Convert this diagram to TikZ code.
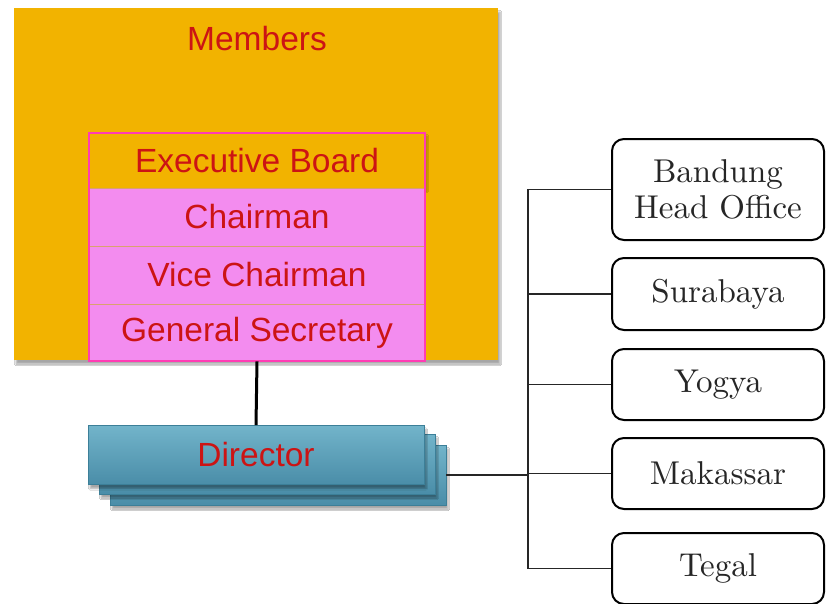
\documentclass[tikz,border=0pt]{standalone}
\usepackage{fontspec}
\newfontfamily\arialf{Liberation Sans}
\newfontfamily\lmten[Extension=.otf]{lmroman10-regular}
\usetikzlibrary{shadows.blur}
\definecolor{orangeF}{HTML}{F2B300}
\definecolor{pinkF}{HTML}{F38CEF}
\definecolor{magB}{HTML}{FF3CB4}
\definecolor{redT}{HTML}{CC1414}
\definecolor{tealT}{HTML}{72B4CA}
\definecolor{tealB}{HTML}{4A8DA8}
\definecolor{tealD}{HTML}{3C7F98}
\definecolor{sepC}{HTML}{D9A26E}
\begin{document}
\begin{tikzpicture}[x=1pt,y=-1pt,
  redtxt/.style={text=redT,font=\arialf\fontsize{33.5}{38}\selectfont,inner sep=0pt},
  membox/.style={fill=orangeF,draw=none,inner sep=0pt,
    blur shadow={shadow xshift=2pt,shadow yshift=-4pt,shadow blur steps=6,shadow opacity=35}},
  rowbox/.style={fill=pinkF,draw=sepC,line width=0.8pt,inner sep=0pt,minimum width=336pt,
    text=redT,font=\arialf\fontsize{33.5}{38}\selectfont},
  dirbox/.style={top color=tealT,bottom color=tealB,draw=tealD,line width=0.8pt,
    inner sep=0pt,minimum width=336pt,
    blur shadow={shadow xshift=2pt,shadow yshift=-4pt,shadow blur steps=5,shadow opacity=35}},
  citybox/.style={draw=black,line width=2pt,rounded corners=12pt,fill=white,
    minimum width=212pt,inner sep=0pt,align=center,
    font=\lmten\fontsize{33}{36}\selectfont,text=black!85},
  conn/.style={draw=black!85,line width=1.3pt},
  thickconn/.style={draw=black,line width=3pt}
]
\useasboundingbox (0,0) rectangle (826,603);
\fill[white] (0,0) rectangle (826,603);
% Members
\node[membox,minimum width=484pt,minimum height=352pt] (mem) at (256,184) {};
\node[redtxt] (memlbl) at (257,39) {Members};
% Executive board group
\node[fill=orangeF,inner sep=0pt,minimum width=336pt,minimum height=55pt,
  text=redT,font=\arialf\fontsize{33.5}{38}\selectfont,
  blur shadow={shadow xshift=2pt,shadow yshift=-3pt,shadow blur steps=5,shadow opacity=30}] (exec) at (257,160.5) {Executive Board};
\node[rowbox,minimum height=58pt] (chair) at (257,217) {Chairman};
\node[rowbox,minimum height=58pt] (vice) at (257,275) {Vice Chairman};
\node[rowbox,minimum height=57pt] (gensec) at (257,332.5) {General Secretary};
\draw[magB,line width=2pt] (exec.north west) rectangle (gensec.south east);
% Director stack
\node[dirbox,minimum height=60pt] (dir3) at (278,475) {};
\node[dirbox,minimum height=60pt] (dir2) at (267,464) {};
\node[dirbox,minimum height=59pt,text=redT,font=\arialf\fontsize{33.5}{38}\selectfont] (dir) at (256,455) {Director};
% City boxes
\node[citybox,minimum height=101pt] (bandung) at (718,189.5) {Bandung\\Head Office};
\node[citybox,minimum height=72pt] (surabaya) at (718,294) {Surabaya};
\node[citybox,minimum height=71pt] (yogya) at (718,384.5) {Yogya};
\node[citybox,minimum height=71pt] (makassar) at (718,473.5) {Makassar};
\node[citybox,minimum height=71pt] (tegal) at (718,568.5) {Tegal};
% connectors
\coordinate (jn) at (528,475);
\draw[thickconn] (gensec.south) -- (dir.north);
\draw[conn] (dir3.east) -- (jn);
\draw[conn] (bandung.west) -- (bandung.west -| jn) -- (tegal.west -| jn) -- (tegal.west);
\draw[conn] (surabaya.west) -- (surabaya.west -| jn);
\draw[conn] (yogya.west) -- (yogya.west -| jn);
\draw[conn] (makassar.west) -- (makassar.west -| jn);
\end{tikzpicture}
\end{document}
